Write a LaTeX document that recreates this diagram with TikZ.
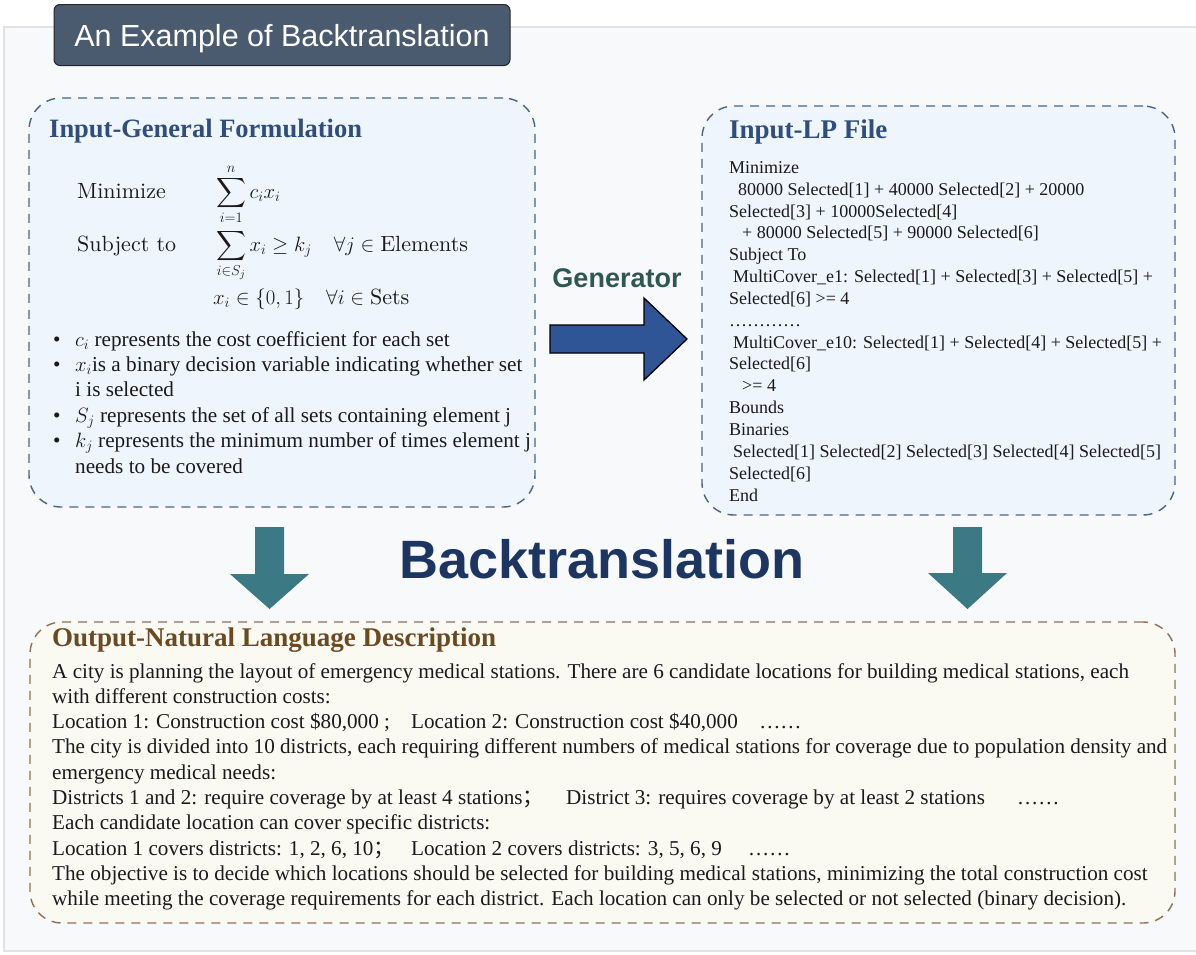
\documentclass[tikz,border=0pt]{standalone}
\usepackage{amsmath}
\usepackage{fontspec}
\newfontfamily\tnr{Liberation Serif}
\newfontfamily\arl{Liberation Sans}
\newfontfamily\cjk{Noto Sans CJK SC}
\newfontfamily\lmten{lmroman10-regular.otf}
\definecolor{bgfill}{HTML}{F8F9FA}
\definecolor{bgline}{HTML}{E2E2E2}
\definecolor{titlefill}{HTML}{4A5B6F}
\definecolor{bluefill}{HTML}{EEF5FD}
\definecolor{bluedash}{HTML}{4A6489}
\definecolor{headblue}{HTML}{2F4D7E}
\definecolor{gentext}{HTML}{2F5753}
\definecolor{genarrow}{HTML}{2F5597}
\definecolor{backnavy}{HTML}{1D3661}
\definecolor{tealarrow}{HTML}{3B7A85}
\definecolor{creamfill}{HTML}{FAFAF3}
\definecolor{browndash}{HTML}{8B7355}
\definecolor{headbrown}{HTML}{6B4A22}
\definecolor{bodytext}{HTML}{1A1A1A}
\tikzset{
  dashbox/.style={rounded corners=32pt, line width=1.4pt, dash pattern=on 9pt off 7pt, inner sep=0pt},
  bluebox/.style={dashbox, draw=bluedash, fill=bluefill},
  creambox/.style={dashbox, draw=browndash, fill=creamfill},
  titlebox/.style={draw=black!85, line width=1pt, fill=titlefill, rounded corners=6pt, text=white,
     font=\arl\fontsize{30.5}{34}\selectfont, minimum width=456pt, minimum height=61pt, inner sep=0pt},
  heading/.style={anchor=base west, inner sep=0pt, font=\tnr\bfseries\fontsize{26.5}{30}\selectfont},
  body/.style={anchor=base west, inner sep=0pt, text=bodytext, font=\tnr\fontsize{21.2}{25.4}\selectfont},
  lptext/.style={anchor=base west, inner sep=0pt, text=bodytext, font=\tnr\fontsize{18}{21.85}\selectfont},
  mathtext/.style={anchor=base west, inner sep=0pt, text=bodytext, font=\lmten\fontsize{22}{25}\selectfont},
}
\begin{document}
\begin{tikzpicture}[x=1pt,y=-1pt]
\useasboundingbox (0,0) rectangle (1196,954);
% outer background
\path[fill=bgfill, draw=bgline, line width=1.2pt] (4,27) rectangle (1205,951);
% title
\node[titlebox, text depth=0pt, text height=22pt] (title) at (282,35) {An Example of Backtranslation};
% boxes
\node[bluebox, minimum width=506pt, minimum height=409pt] (genbox) at (282,302.5) {};
\node[bluebox, minimum width=473pt, minimum height=409pt] (lpbox) at (938.5,310.5) {};
\node[creambox, minimum width=1145pt, minimum height=301pt] (outbox) at (602.5,772.5) {};
% headings
\node[heading, text=headblue] (genhead) at (49,137) {Input-General Formulation};
\node[heading, text=headblue, font=\tnr\bfseries\fontsize{27}{30}\selectfont] (lphead) at (729,138) {Input-LP File};
\node[heading, text=headbrown, font=\tnr\bfseries\fontsize{27}{30}\selectfont] (outhead) at (52,646) {Output-Natural Language Description};
% math formulation
\node[mathtext] (min) at (77,198) {Minimize};
\node[mathtext] (obj) at (216,198) {$\displaystyle\sum_{i=1}^{n} c_i x_i$};
\node[mathtext] (subj) at (77,251) {Subject to};
\node[mathtext] (cons) at (216,251) {$\displaystyle\sum_{i\in S_j} x_i \geq k_j \quad \forall j \in \text{Elements}$};
\node[mathtext] (bin) at (213,304) {$x_i \in \{0,1\} \quad \forall i \in \text{Sets}$};
% bullet list
\foreach \t [count=\i from 0] in {
  {\makebox[22pt][l]{•}$c_i$ represents the cost coefficient for each set},
  {\makebox[22pt][l]{•}$x_i$is a binary decision variable indicating whether set},
  {\hspace*{22pt}i is selected},
  {\makebox[22pt][l]{•}$S_j$ represents the set of all sets containing element j},
  {\makebox[22pt][l]{•}$k_j$ represents the minimum number of times element j},
  {\hspace*{22pt}needs to be covered}}
  \node[body] (bl\i) at (53,{346+\i*25.4}) {\t};
% LP file
\foreach \t [count=\i from 0] in {
  {Minimize},
  {\hspace*{9pt}80000 Selected[1] + 40000 Selected[2] + 20000},
  {Selected[3] + 10000Selected[4]},
  {\hspace*{13pt}+ 80000 Selected[5] + 90000 Selected[6]},
  {Subject To},
  {\hspace*{4pt}MultiCover\_e1: Selected[1] + Selected[3] + Selected[5] +},
  {Selected[6] >= 4},
  {…………},
  {\hspace*{4pt}MultiCover\_e10: Selected[1] + Selected[4] + Selected[5] +},
  {Selected[6]},
  {\hspace*{13pt}>= 4},
  {Bounds},
  {Binaries},
  {\hspace*{4pt}Selected[1] Selected[2] Selected[3] Selected[4] Selected[5]},
  {Selected[6]},
  {End}}
  \node[lptext] (lp\i) at (729,{173.3+\i*21.85}) {\t};
% generator arrow
\node[anchor=base, inner sep=0pt, text=gentext, font=\arl\bfseries\fontsize{27}{30}\selectfont] (gen) at (617,287) {Generator};
\path[fill=genarrow, draw=black, line width=1.3pt, line join=miter]
  (550,325) -- (644,325) -- (644,298) -- (687,339) -- (644,380) -- (644,353) -- (550,353) -- cycle;
% backtranslation
\node[anchor=base west, inner sep=0pt, text=backnavy, font=\arl\bfseries\fontsize{54}{60}\selectfont] (back) at (399,578) {Backtranslation};
\path[fill=tealarrow] (255,527) -- (284,527) -- (284,574) -- (309,574) -- (269.5,609) -- (230,574) -- (255,574) -- cycle;
\path[fill=tealarrow] (953,527) -- (982,527) -- (982,573) -- (1007,573) -- (967.5,609) -- (928,573) -- (953,573) -- cycle;
% output description
\foreach \t [count=\i from 0] in {
  {A city is planning the layout of emergency medical stations. There are 6 candidate locations for building medical stations, each},
  {with different construction costs:},
  {\makebox[359pt][l]{Location 1: Construction cost \$80,000 ;}\makebox[348pt][l]{Location 2: Construction cost \$40,000}……},
  {The city is divided into 10 districts, each requiring different numbers of medical stations for coverage due to population density and},
  {emergency medical needs:},
  {\makebox[514pt][l]{Districts 1 and 2: require coverage by at least 4 stations{\cjk ；}}\makebox[451pt][l]{District 3: requires coverage by at least 2 stations}……},
  {Each candidate location can cover specific districts:},
  {\makebox[359pt][l]{Location 1 covers districts: 1, 2, 6, 10{\cjk ；}}\makebox[337pt][l]{Location 2 covers districts: 3, 5, 6, 9}……},
  {The objective is to decide which locations should be selected for building medical stations, minimizing the total construction cost},
  {while meeting the coverage requirements for each district. Each location can only be selected or not selected (binary decision).}}
  \node[body, font=\tnr\fontsize{21.15}{25.3}\selectfont] (od\i) at (52,{678+\i*25.3}) {\t};
\end{tikzpicture}
\end{document}
